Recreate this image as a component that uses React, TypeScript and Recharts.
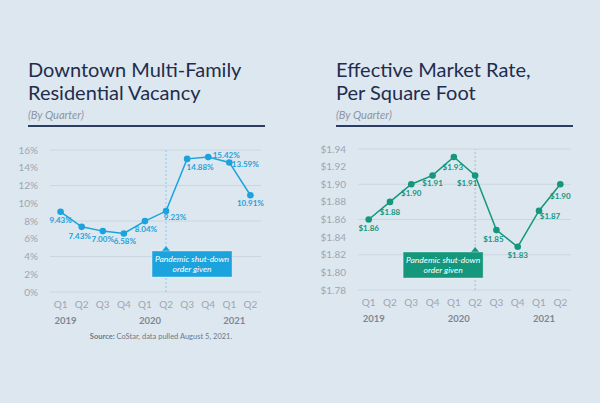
import React from "react";
import {
  LineChart,
  Line,
  XAxis,
  YAxis,
  CartesianGrid,
  ReferenceLine,
  LabelList,
} from "recharts";

const quarters = ["Q1", "Q2", "Q3", "Q4", "Q1", "Q2", "Q3", "Q4", "Q1", "Q2"];
const years = ["2019", "2019", "2019", "2019", "2020", "2020", "2020", "2020", "2021", "2021"];

// vacancy, as plotted (%), and the printed labels
const vacancyValues = [9.04, 7.34, 6.86, 6.6, 7.99, 9.12, 15.0, 15.2, 14.6, 10.9];
const vacancyLabels = ["9.43%", "7.43%", "7.00%", "6.58%", "8.04%", "9.23%", "14.88%", "15.42%", "13.59%", "10.91%"];
const vacancyTicks = [0, 2, 4, 6, 8, 10, 12, 14, 16];

// effective market rate ($ / sq ft)
const rateValues = [1.86, 1.88, 1.9, 1.91, 1.931, 1.91, 1.848, 1.829, 1.87, 1.9];
const rateLabels = ["$1.86", "$1.88", "$1.90", "$1.91", "$1.93", "$1.91", "$1.85", "$1.83", "$1.87", "$1.90"];
const rateTicks = [1.78, 1.8, 1.82, 1.84, 1.86, 1.88, 1.9, 1.92, 1.94];

const shutdownQuarter = "2020 Q2";

const keys = quarters.map((q, i) => `${years[i]} ${q}`);
const vacancyData = keys.map((k, i) => ({ key: k, value: vacancyValues[i], label: vacancyLabels[i] }));
const rateData = keys.map((k, i) => ({ key: k, value: rateValues[i], label: rateLabels[i] }));

// label nudges (layout only)
const vacancyLabelOffsets = [[0, 8], [-2, 9], [0, 8], [1, 8], [1, 8], [9, 6], [13, 8], [18, -2], [16, 2], [0, 8]];
const rateLabelOffsets = [[0, 8], [0, 10], [0, 9], [0, 8], [-1, 10], [-8, 8], [-3, 9], [0, 8], [11, 5], [0, 12]];

const FONT = "Lato, 'Open Sans', sans-serif";
const NAVY = "#1f2d4d";
const BLUE = "#1ba3dd";
const TEAL = "#14977d";

const QuarterTick = (props: any) => {
  const { x, y, payload, index } = props;
  const i = keys.indexOf(payload.value);
  const showYear = quarters[i] === "Q1";
  return (
    <g>
      <text x={x} y={y + 8} textAnchor="middle" fontSize={10} fill="#9ca6b1" fontFamily={FONT}>
        {quarters[i]}
      </text>
      {showYear && (
        <text x={x - 6} y={y + 24} textAnchor="start" fontSize={9.5} fontWeight={700} fill="#7d8792" fontFamily={FONT}>
          {years[i]}
        </text>
      )}
    </g>
  );
};

const makeLabel = (offsets: number[][], color: string) => (props: any) => {
  const { x, y, value, index } = props;
  const [dx, dy] = offsets[index] || [0, 8];
  return (
    <text
      x={x + dx}
      y={y + dy + 3}
      textAnchor="middle"
      fontSize={8}
      fontWeight={700}
      fill={color}
      fontFamily={FONT}
    >
      {value}
    </text>
  );
};

const makeBox = (color: string, leftOff: number, boxTop: number) => (props: any) => {
  const vb = props.viewBox || {};
  const lx = vb.x;
  const w = 80;
  const h = 26;
  const bx = lx + leftOff;
  return (
    <g>
      <polygon points={`${lx - 4},${boxTop} ${lx + 4},${boxTop} ${lx},${boxTop - 5}`} fill={color} />
      <rect x={bx} y={boxTop} width={w} height={h} fill={color} stroke="#ffffff" strokeOpacity={0.35} strokeWidth={1} />
      <text x={bx + w / 2} y={boxTop + 11} textAnchor="middle" fontSize={8.5} fontStyle="italic" fill="#ffffff" fontFamily={FONT}>
        Pandemic shut-down
      </text>
      <text x={bx + w / 2} y={boxTop + 21} textAnchor="middle" fontSize={8.5} fontStyle="italic" fill="#ffffff" fontFamily={FONT}>
        order given
      </text>
    </g>
  );
};

const Title = ({ left, lines, width }: { left: number; lines: string[]; width: number }) => (
  <div style={{ position: "absolute", left, top: 58, width, fontFamily: FONT }}>
    <div style={{ fontSize: 20, lineHeight: "23px", color: NAVY }}>
      {lines.map((l) => (
        <div key={l}>{l}</div>
      ))}
    </div>
    <div style={{ fontSize: 11, fontStyle: "italic", color: "#8a95a2", marginTop: 4 }}>(By Quarter)</div>
    <div style={{ height: 2, background: "#2b3d64", marginTop: 4 }} />
  </div>
);

export default function App() {
  return (
    <div
      style={{
        position: "absolute",
        left: 0,
        top: 0,
        width: 600,
        height: 403,
        background: "#dde7f0",
        overflow: "hidden",
        fontFamily: FONT,
      }}
    >
      <Title left={28} lines={["Downtown Multi-Family", "Residential Vacancy"]} width={237} />
      <Title left={336} lines={["Effective Market Rate,", "Per Square Foot"]} width={237} />

      <div style={{ position: "absolute", left: 0, top: 0 }}>
        <LineChart width={300} height={403} data={vacancyData} margin={{ top: 150, right: 39, bottom: 0, left: 0 }}>
          <CartesianGrid vertical={false} stroke="#ccd6e1" />
          <XAxis
            dataKey="key"
            axisLine={false}
            tickLine={false}
            interval={0}
            padding={{ left: 10.6, right: 10.6 }}
            tick={<QuarterTick />}
            height={111}
          />
          <YAxis
            width={50}
            domain={[0, 16]}
            ticks={vacancyTicks}
            axisLine={false}
            tickLine={false}
            tickMargin={6}
            tickFormatter={(v) => `${v}%`}
            tick={{ fontSize: 10, fill: "#9ca6b1", fontFamily: FONT }}
          />
          <ReferenceLine
            x={shutdownQuarter}
            stroke="#8ccbea"
            strokeDasharray="2 2"
            label={makeBox(BLUE, -14, 251)}
          />
          <Line
            type="linear"
            dataKey="value"
            stroke={BLUE}
            strokeWidth={1.5}
            dot={{ r: 3.3, fill: BLUE, stroke: BLUE, strokeWidth: 0 }}
            isAnimationActive={false}
          >
            <LabelList dataKey="label" content={makeLabel(vacancyLabelOffsets, BLUE)} />
          </Line>
        </LineChart>
      </div>

      <div style={{ position: "absolute", left: 300, top: 0 }}>
        <LineChart width={300} height={403} data={rateData} margin={{ top: 149, right: 29, bottom: 0, left: 0 }}>
          <CartesianGrid vertical={false} stroke="#ccd6e1" />
          <XAxis
            dataKey="key"
            axisLine={false}
            tickLine={false}
            interval={0}
            padding={{ left: 10.7, right: 10.7 }}
            tick={<QuarterTick />}
            height={113}
          />
          <YAxis
            width={58}
            domain={[1.78, 1.94]}
            ticks={rateTicks}
            axisLine={false}
            tickLine={false}
            tickMargin={6}
            tickFormatter={(v) => `$${v.toFixed(2)}`}
            tick={{ fontSize: 10, fill: "#9ca6b1", fontFamily: FONT }}
          />
          <ReferenceLine
            x={shutdownQuarter}
            stroke="#9fc7bd"
            strokeDasharray="2 2"
            label={makeBox(TEAL, -72, 252)}
          />
          <Line
            type="linear"
            dataKey="value"
            stroke={TEAL}
            strokeWidth={1.5}
            dot={{ r: 3.3, fill: TEAL, stroke: TEAL, strokeWidth: 0 }}
            isAnimationActive={false}
          >
            <LabelList dataKey="label" content={makeLabel(rateLabelOffsets, TEAL)} />
          </Line>
        </LineChart>
      </div>

      <div
        style={{
          position: "absolute",
          left: 61,
          width: 200,
          top: 332,
          textAlign: "center",
          fontSize: 7.5,
          color: "#6e7986",
          fontFamily: FONT,
        }}
      >
        <b>Source:</b> CoStar, data pulled August 5, 2021.
      </div>
    </div>
  );
}
